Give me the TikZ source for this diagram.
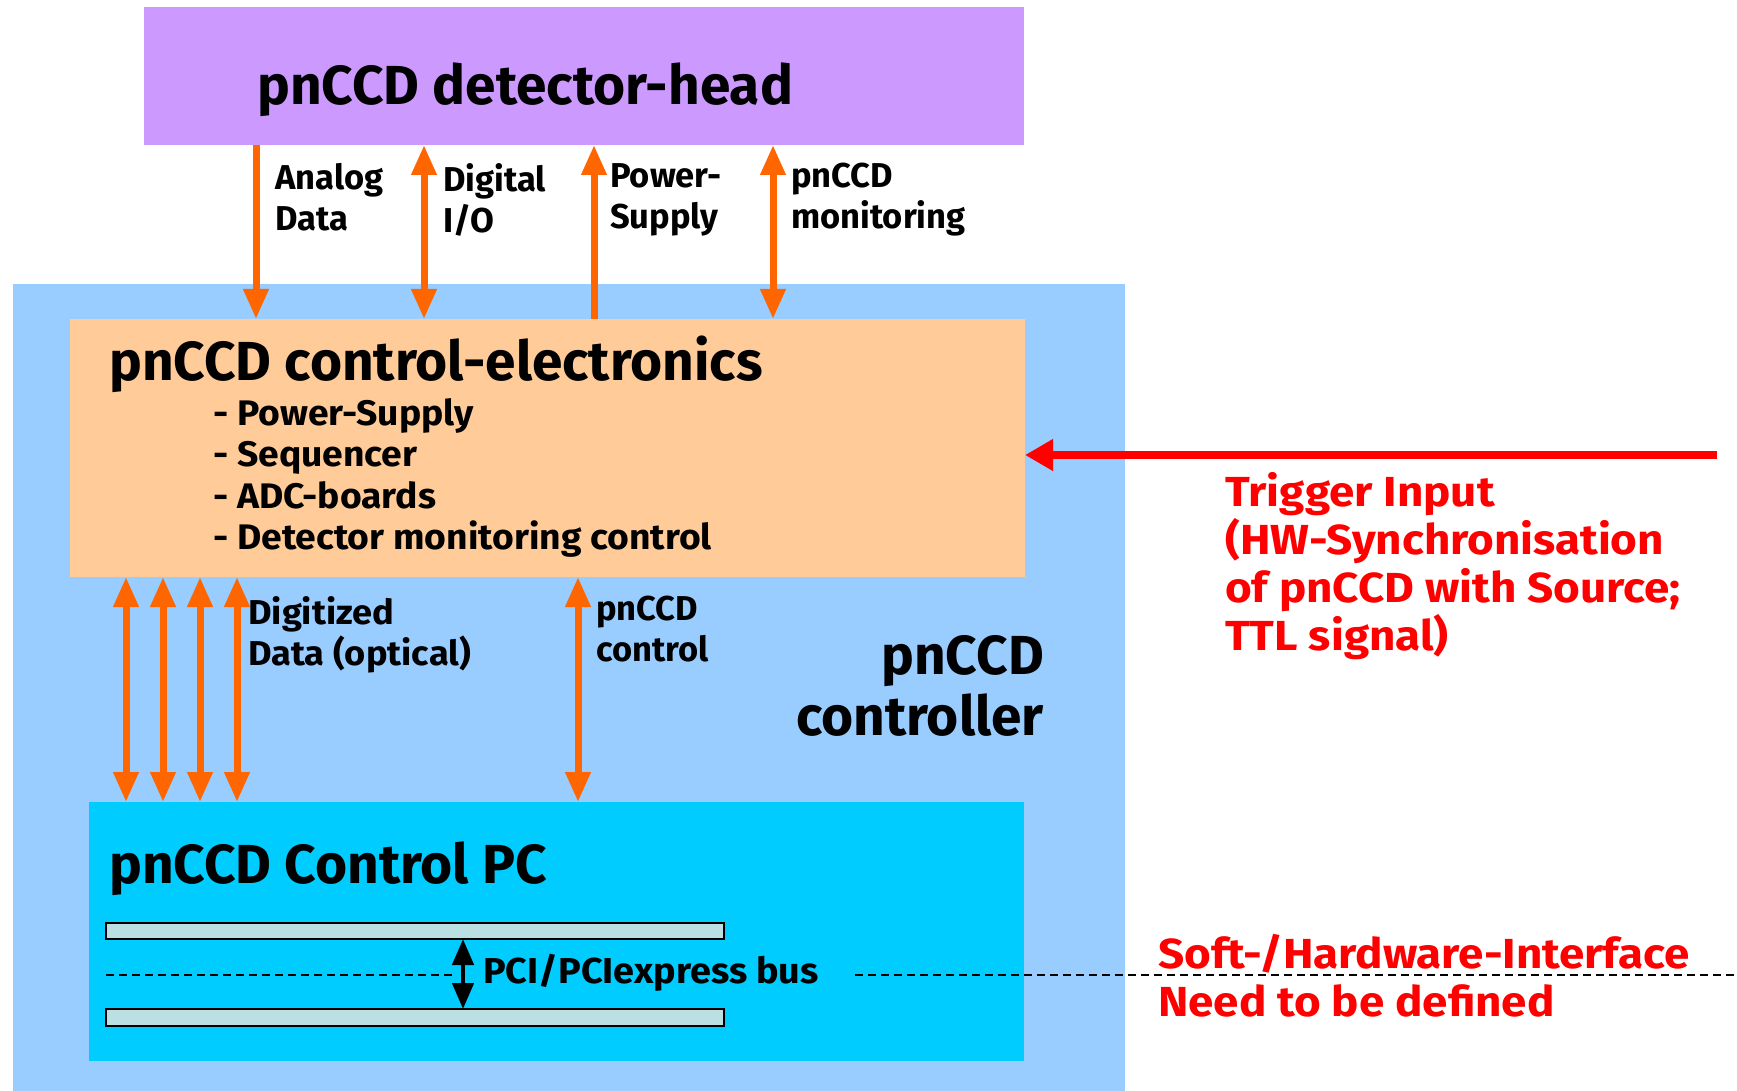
\documentclass[tikz,border=0pt]{standalone}
\usepackage{fontspec}
\setmainfont{Fira Sans}
\newfontfamily\widesans{Fira Sans}[FakeStretch=1.09]
\newfontfamily\semiwide{Fira Sans}[FakeStretch=1.05]
\usetikzlibrary{arrows.meta}
\definecolor{headviolet}{HTML}{CC99FF}
\definecolor{ctrlblue}{HTML}{99CCFF}
\definecolor{peach}{HTML}{FFCC99}
\definecolor{pccyan}{HTML}{00CCFF}
\definecolor{wireorange}{HTML}{FF6600}
\definecolor{busteal}{HTML}{BBE0E3}
\tikzset{
  box/.style={rectangle, draw=none, inner sep=0pt, outer sep=0pt},
  busbar/.style={rectangle, draw=black, line width=2pt, fill=busteal, inner sep=0pt, outer sep=0pt},
  bigtitle/.style={inner sep=0pt, font=\fontsize{55}{61}\selectfont\bfseries},
  lbl/.style={inner sep=0pt, align=left, font=\fontsize{34.5}{41}\selectfont\bfseries},
  redlbl/.style={inner sep=0pt, align=left, text=red, font=\widesans\fontsize{42}{48}\selectfont\bfseries},
  wire/.style={draw=wireorange, line width=7pt, -{Triangle[width=24pt,length=30pt]}},
  wire2/.style={draw=wireorange, line width=7pt, {Triangle[width=24pt,length=30pt]}-{Triangle[width=24pt,length=30pt]}},
  wireup/.style={draw=wireorange, line width=7pt, {Triangle[width=24pt,length=30pt]}-},
  trig/.style={draw=red, line width=8pt, -{Triangle[width=30pt,length=28pt]}},
  busarrow/.style={draw=black, line width=4.5pt, {Triangle[width=21pt,length=26pt]}-{Triangle[width=21pt,length=26pt]}},
  ifline/.style={draw=black, line width=1.6pt, dash pattern=on 8pt off 5pt},
}
\begin{document}
\begin{tikzpicture}[x=1pt,y=-1pt]
  % canvas
  \fill[white] (0,0) rectangle (1737,1091);
  \useasboundingbox (0,0) rectangle (1737,1091);

  % boxes
  \node[box, fill=ctrlblue, minimum width=1112pt, minimum height=807pt] (ctrl) at (569,687.5) {};
  \node[box, fill=headviolet, minimum width=880pt, minimum height=138pt] (det) at (584,76) {};
  \node[box, fill=peach, minimum width=955pt, minimum height=258pt] (ce) at (547.5,448) {};
  \node[box, fill=pccyan, minimum width=935pt, minimum height=259pt] (pc) at (556.5,931.5) {};
  \node[busbar, minimum width=618pt, minimum height=16pt] (bar1) at (415,931) {};
  \node[busbar, minimum width=618pt, minimum height=17pt] (bar2) at (415,1017.5) {};

  % titles
  \node[bigtitle, anchor=base west] (dettitle) at (257,105) {pnCCD detector-head};
  \node[bigtitle, anchor=base west] (cetitle) at (109,380) {pnCCD control-electronics};
  \node[bigtitle, anchor=base west] (pctitle) at (109,883) {pnCCD Control PC};
  \node[bigtitle, anchor=north east, align=right] (ctrltitle) at (1044,635) {pnCCD\\controller};

  \node[lbl, anchor=north west, font=\semiwide\fontsize{35.5}{41.5}\selectfont\bfseries] (celist) at (213,398)
    {- Power-Supply\\- Sequencer\\- ADC-boards\\- Detector monitoring control};

  % links between detector head and control electronics
  \draw[wire]   (det.south -| 256,0) -- (ce.north -| 256,0);
  \draw[wire2]  (det.south -| 424,0) -- (ce.north -| 424,0);
  \draw[wireup] (det.south -| 594,0) -- (ce.north -| 594,0);
  \draw[wire2]  (det.south -| 773,0) -- (ce.north -| 773,0);
  \node[lbl, anchor=north west] (lanalog) at (275,163) {Analog\\Data};
  \node[lbl, anchor=north west] (ldigital) at (443,163) {Digital\\I/O};
  \node[lbl, anchor=north west] (lpower) at (610,163) {Power-\\Supply};
  \node[lbl, anchor=north west] (lmon) at (791,163) {pnCCD\\monitoring};

  % links between control electronics and control PC
  \foreach \xx in {126,163,200,237,578}
    \draw[wire2] (ce.south -| \xx,0) -- (pc.north -| \xx,0);
  \node[lbl, anchor=north west, font=\semiwide\fontsize{34.5}{41}\selectfont\bfseries] (ldig) at (248,596) {Digitized\\Data (optical)};
  \node[lbl, anchor=north west] (lctl) at (596,596) {pnCCD\\control};

  % trigger input
  \coordinate (trigsrc) at (1717,455);
  \draw[trig] (trigsrc) -- (ce.east |- trigsrc);
  \node[redlbl, anchor=north west] (ltrig) at (1225,472)
    {Trigger Input\\(HW-Synchronisation\\of pnCCD with Source;\\TTL signal)};

  % PCI bus and software/hardware interface line
  \draw[busarrow] (bar1.south -| 463,0) -- (bar2.north -| 463,0);
  \node[lbl, anchor=west, font=\semiwide\fontsize{36}{41}\selectfont\bfseries] (lpci) at (483,973) {PCI/PCIexpress bus};
  \coordinate (ifa) at (106,975);
  \coordinate (ifb) at (454,975);
  \coordinate (ifc) at (855,975);
  \coordinate (ifd) at (1737,975);
  \draw[ifline] (ifa) -- (ifb);
  \draw[ifline] (ifc) -- (ifd);
  \node[redlbl, anchor=north west] (lsoft) at (1158,934)
    {Soft-/Hardware-Interface\\Need to be defined};
\end{tikzpicture}
\end{document}
